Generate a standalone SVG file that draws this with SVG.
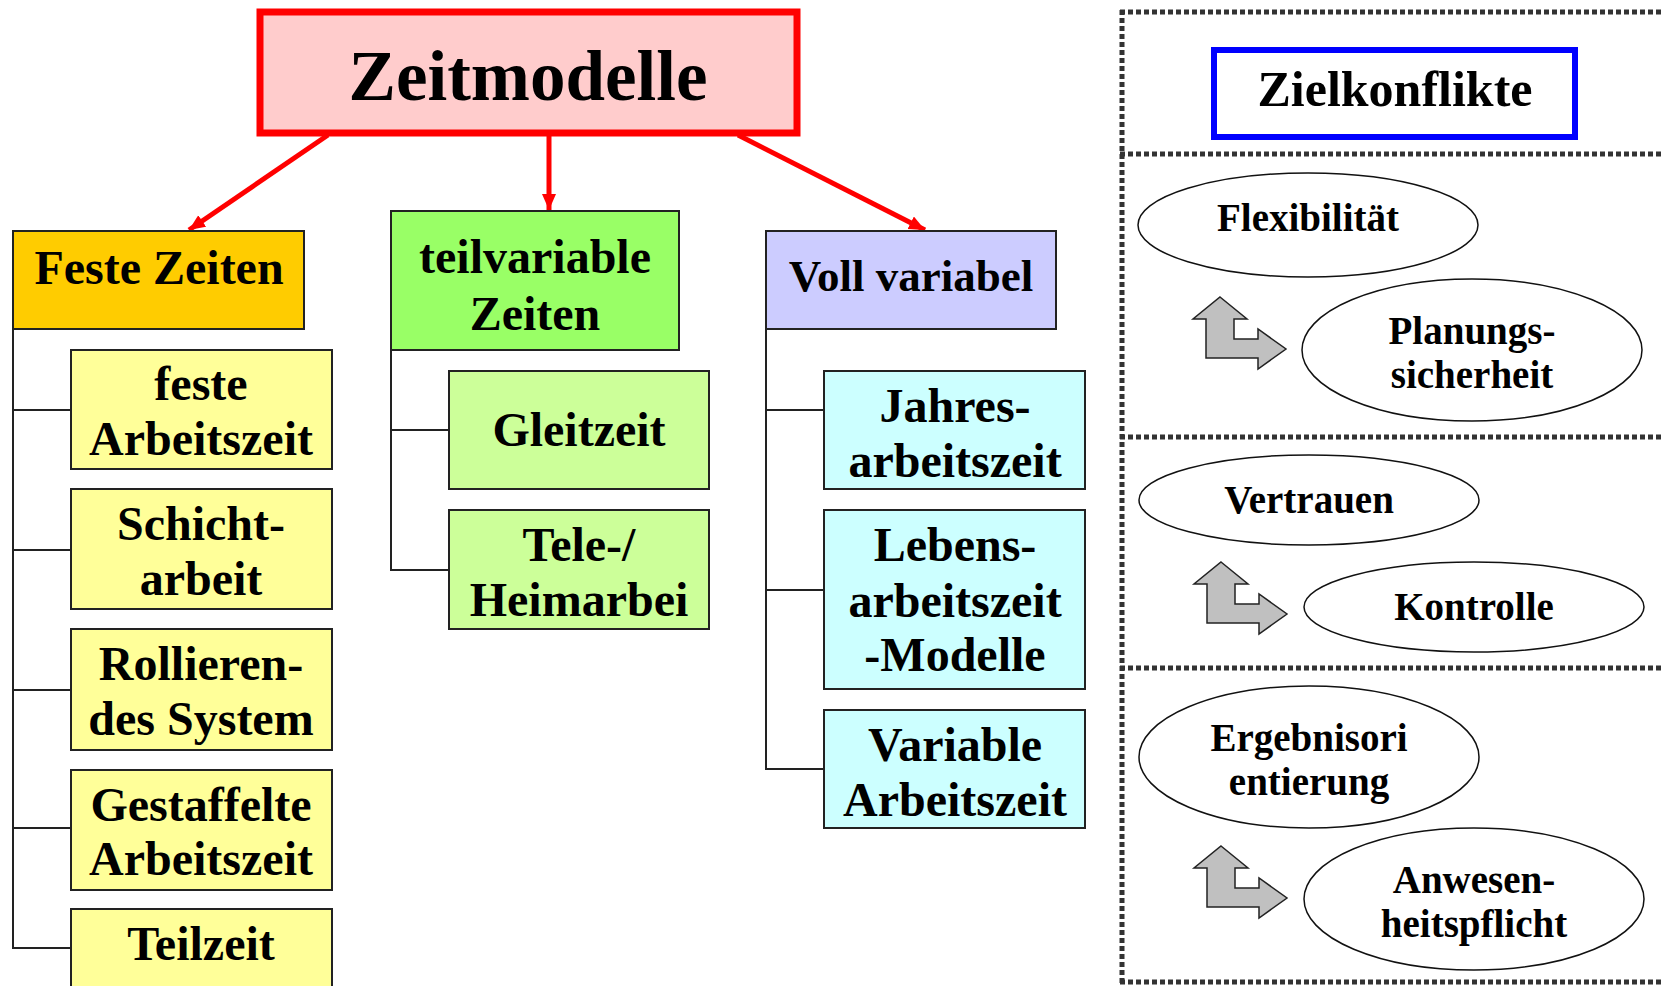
<svg xmlns="http://www.w3.org/2000/svg" width="1661" height="986" viewBox="0 0 1661 986">
<style>
  .t { font-family: "Liberation Serif", "Times New Roman", serif; font-weight: bold; fill: #000; text-anchor: middle; }
  .box { stroke: #222; stroke-width: 2; }
  .tree { fill: none; stroke: #222; stroke-width: 2; }
  .ell { fill: #fff; stroke: #111; stroke-width: 1.5; }
  .dash { stroke: #333; stroke-width: 5; stroke-dasharray: 5 3; fill: none; }
  .barrow { fill: #c0c0c0; stroke: #222; stroke-width: 1.5; stroke-linejoin: miter; }
  .red { stroke: #ff0000; stroke-width: 5; fill: none; }
</style>
<defs>
  <marker id="ah" markerUnits="userSpaceOnUse" markerWidth="18" markerHeight="16" refX="16" refY="7" orient="auto">
    <path d="M0,0 L16,7 L0,14 Z" fill="#ff0000"/>
  </marker>
  <polygon id="bent" points="0,0 27,22 14,22 14,42 38,42 38,32 66,52 38,72 38,61 -14,61 -14,22 -27,22"/>
</defs>
<rect width="1661" height="986" fill="#fff"/>

<g id="connectors">
  <line class="red" x1="328" y1="135" x2="189" y2="230" marker-end="url(#ah)"/>
  <line class="red" x1="549" y1="135" x2="549" y2="210" marker-end="url(#ah)"/>
  <line class="red" x1="738" y1="135" x2="925" y2="230" marker-end="url(#ah)"/>
  <polyline class="tree" points="13,329 13,948 71,948"/>
  <line class="tree" x1="13" y1="410" x2="71" y2="410"/>
  <line class="tree" x1="13" y1="550" x2="71" y2="550"/>
  <line class="tree" x1="13" y1="690" x2="71" y2="690"/>
  <line class="tree" x1="13" y1="828" x2="71" y2="828"/>
  <polyline class="tree" points="391,350 391,570 449,570"/>
  <line class="tree" x1="391" y1="430" x2="449" y2="430"/>
  <polyline class="tree" points="766,329 766,769 824,769"/>
  <line class="tree" x1="766" y1="410" x2="824" y2="410"/>
  <line class="tree" x1="766" y1="590" x2="824" y2="590"/>
</g>

<g id="zeitmodelle">
  <rect x="260" y="12" width="537" height="121" fill="#ffcccc" stroke="#ff0000" stroke-width="7"/>
  <text class="t" x="528" y="100" font-size="71">Zeitmodelle</text>
</g>

<g id="feste-zeiten">
  <rect class="box" x="13" y="231" width="291" height="98" fill="#ffcc00"/>
  <text class="t" x="159" y="284" font-size="48">Feste Zeiten</text>
</g>
<g id="feste-arbeitszeit">
  <rect class="box" x="71" y="350" width="261" height="119" fill="#ffff99"/>
  <text class="t" x="201" y="400" font-size="48">feste</text>
  <text class="t" x="201" y="455" font-size="48">Arbeitszeit</text>
</g>
<g id="schichtarbeit">
  <rect class="box" x="71" y="489" width="261" height="120" fill="#ffff99"/>
  <text class="t" x="201" y="540" font-size="48">Schicht-</text>
  <text class="t" x="201" y="595" font-size="48">arbeit</text>
</g>
<g id="rollierendes-system">
  <rect class="box" x="71" y="629" width="261" height="121" fill="#ffff99"/>
  <text class="t" x="201" y="680" font-size="48">Rollieren-</text>
  <text class="t" x="201" y="735" font-size="48">des System</text>
</g>
<g id="gestaffelte-arbeitszeit">
  <rect class="box" x="71" y="770" width="261" height="120" fill="#ffff99"/>
  <text class="t" x="201" y="821" font-size="48">Gestaffelte</text>
  <text class="t" x="201" y="875" font-size="48">Arbeitszeit</text>
</g>
<g id="teilzeit">
  <rect class="box" x="71" y="909" width="261" height="100" fill="#ffff99"/>
  <text class="t" x="201" y="960" font-size="48">Teilzeit</text>
</g>

<g id="teilvariable-zeiten">
  <rect class="box" x="391" y="211" width="288" height="139" fill="#99ff66"/>
  <text class="t" x="535" y="273" font-size="48">teilvariable</text>
  <text class="t" x="535" y="330" font-size="48">Zeiten</text>
</g>
<g id="gleitzeit">
  <rect class="box" x="449" y="371" width="260" height="118" fill="#ccff99"/>
  <text class="t" x="579" y="446" font-size="48">Gleitzeit</text>
</g>
<g id="heimarbeit">
  <rect class="box" x="449" y="510" width="260" height="119" fill="#ccff99"/>
  <text class="t" x="579" y="561" font-size="48">Tele-/</text>
  <text class="t" x="579" y="616" font-size="48">Heimarbei</text>
</g>

<g id="voll-variabel">
  <rect class="box" x="766" y="231" width="290" height="98" fill="#ccccff"/>
  <text class="t" x="911" y="291" font-size="45">Voll variabel</text>
</g>
<g id="jahresarbeitszeit">
  <rect class="box" x="824" y="371" width="261" height="118" fill="#ccffff"/>
  <text class="t" x="955" y="422" font-size="48">Jahres-</text>
  <text class="t" x="955" y="477" font-size="48">arbeitszeit</text>
</g>
<g id="lebensarbeitszeit">
  <rect class="box" x="824" y="510" width="261" height="179" fill="#ccffff"/>
  <text class="t" x="955" y="561" font-size="48">Lebens-</text>
  <text class="t" x="955" y="617" font-size="48">arbeitszeit</text>
  <text class="t" x="955" y="671" font-size="48">-Modelle</text>
</g>
<g id="variable-arbeitszeit">
  <rect class="box" x="824" y="710" width="261" height="118" fill="#ccffff"/>
  <text class="t" x="955" y="761" font-size="48">Variable</text>
  <text class="t" x="955" y="816" font-size="48">Arbeitszeit</text>
</g>

<g id="zielkonflikte-panel">
  <line class="dash" x1="1120" y1="12" x2="1661" y2="12"/>
  <line class="dash" x1="1120" y1="154" x2="1661" y2="154"/>
  <line class="dash" x1="1120" y1="437" x2="1661" y2="437"/>
  <line class="dash" x1="1120" y1="668" x2="1661" y2="668"/>
  <line class="dash" x1="1120" y1="982" x2="1661" y2="982"/>
  <line class="dash" x1="1122" y1="10" x2="1122" y2="986"/>
</g>

<g id="zielkonflikte">
  <rect x="1214" y="50" width="361" height="87" fill="#fff" stroke="#0000ff" stroke-width="6"/>
  <text class="t" x="1395" y="106" font-size="50">Zielkonflikte</text>
</g>

<g id="flexibilitaet">
  <ellipse class="ell" cx="1308" cy="225" rx="170" ry="52"/>
  <text class="t" x="1308" y="231" font-size="39">Flexibilität</text>
</g>
<g id="arrow-1"><use href="#bent" class="barrow" x="1220" y="297"/></g>
<g id="planungssicherheit">
  <ellipse class="ell" cx="1472" cy="350" rx="170" ry="71"/>
  <text class="t" x="1472" y="344" font-size="39">Planungs-</text>
  <text class="t" x="1472" y="388" font-size="39">sicherheit</text>
</g>

<g id="vertrauen">
  <ellipse class="ell" cx="1309" cy="500" rx="170" ry="45"/>
  <text class="t" x="1309" y="513" font-size="39">Vertrauen</text>
</g>
<g id="arrow-2"><use href="#bent" class="barrow" x="1221" y="562"/></g>
<g id="kontrolle">
  <ellipse class="ell" cx="1474" cy="607" rx="170" ry="45"/>
  <text class="t" x="1474" y="620" font-size="39">Kontrolle</text>
</g>

<g id="ergebnisorientierung">
  <ellipse class="ell" cx="1309" cy="757" rx="170" ry="71"/>
  <text class="t" x="1309" y="751" font-size="39">Ergebnisori</text>
  <text class="t" x="1309" y="795" font-size="39">entierung</text>
</g>
<g id="arrow-3"><use href="#bent" class="barrow" x="1221" y="846"/></g>
<g id="anwesenheitspflicht">
  <ellipse class="ell" cx="1474" cy="899" rx="170" ry="71"/>
  <text class="t" x="1474" y="893" font-size="39">Anwesen-</text>
  <text class="t" x="1474" y="937" font-size="39">heitspflicht</text>
</g>
</svg>
